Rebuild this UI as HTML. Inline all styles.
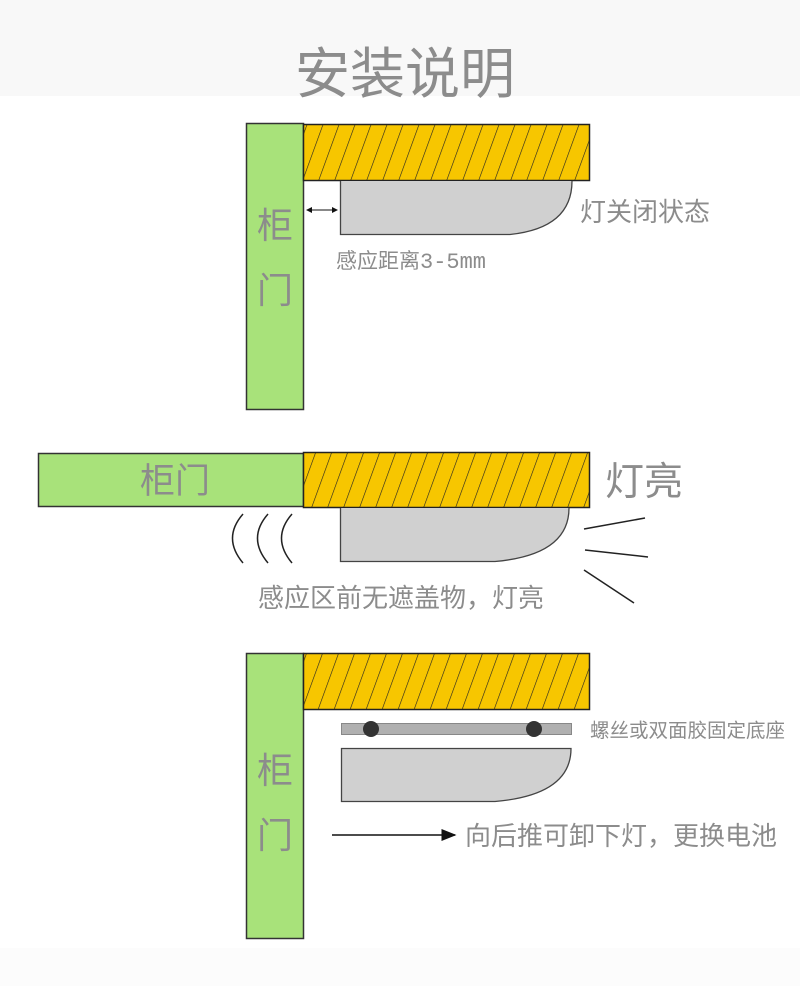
<!DOCTYPE html>
<html><head><meta charset="utf-8"><style>
html,body{margin:0;padding:0;background:#fff;}
svg{display:block;}
text{font-family:"Liberation Sans","Noto Sans CJK SC",sans-serif;fill:#8c8c8c;}
</style></head><body>
<svg width="800" height="986" viewBox="0 0 800 986" xmlns="http://www.w3.org/2000/svg">
<defs>
<pattern id="h" patternUnits="userSpaceOnUse" width="16" height="60" patternTransform="skewX(-20)">
<rect width="16" height="60" fill="#f7c600"/>
<line x1="0" y1="0" x2="0" y2="60" stroke="#222" stroke-width="1.3"/>
</pattern>
<marker id="ah" markerWidth="10" markerHeight="8" refX="9" refY="4" orient="auto"><path d="M0,0 L10,4 L0,8z" fill="#111"/></marker>
<marker id="as" markerWidth="6" markerHeight="6" refX="5" refY="3" orient="auto-start-reverse"><path d="M0,0 L6,3 L0,6z" fill="#111"/></marker>
</defs>
<rect x="0" y="0" width="800" height="96" fill="#f8f8f8"/>
<rect x="0" y="948" width="800" height="38" fill="#fcfcfc"/>
<text x="405" y="93" font-size="55" text-anchor="middle" fill="#999">安装说明</text>

<!-- section 1 -->
<rect x="246.5" y="123.5" width="57" height="286" fill="#a8e27a" stroke="#333" stroke-width="1.5"/>
<rect x="303.5" y="124.5" width="286" height="56" fill="url(#h)" stroke="#222" stroke-width="1.5"/>
<path d="M340.5,181 V234.5 H510 Q572,228 572,181" fill="#d0d0d0" stroke="#444" stroke-width="1.3"/>
<line x1="307" y1="210" x2="337" y2="210" stroke="#111" stroke-width="1" marker-start="url(#as)" marker-end="url(#as)"/>
<text x="275" y="238" font-size="36" text-anchor="middle">柜</text>
<text x="275" y="303" font-size="36" text-anchor="middle">门</text>
<text x="580" y="221" font-size="26">灯关闭状态</text>
<text x="336" y="268" font-size="21">感应距离<tspan font-family="Liberation Mono, monospace" font-size="22">3-5mm</tspan></text>

<!-- section 2 -->
<rect x="38.5" y="453.5" width="265" height="53" fill="#a8e27a" stroke="#333" stroke-width="1.5"/>
<rect x="303.5" y="452.5" width="286" height="55" fill="url(#h)" stroke="#222" stroke-width="1.5"/>
<path d="M340.5,508 V561.5 H495 Q569,555 569,508" fill="#d0d0d0" stroke="#444" stroke-width="1.3"/>
<text x="175" y="493" font-size="35" text-anchor="middle">柜门</text>
<text x="605" y="495" font-size="39">灯亮</text>
<path d="M243,514 Q222,538 243,563" fill="none" stroke="#222" stroke-width="1.5"/>
<path d="M268,514 Q247,538 268,563" fill="none" stroke="#222" stroke-width="1.5"/>
<path d="M292,514 Q271,538 292,563" fill="none" stroke="#222" stroke-width="1.5"/>
<line x1="584" y1="529" x2="645" y2="518" stroke="#222" stroke-width="1.5"/>
<line x1="585" y1="550" x2="648" y2="557" stroke="#222" stroke-width="1.5"/>
<line x1="584" y1="570" x2="634" y2="603" stroke="#222" stroke-width="1.5"/>
<text x="258" y="607" font-size="26">感应区前无遮盖物，灯亮</text>

<!-- section 3 -->
<rect x="246.5" y="653.5" width="57" height="285" fill="#a8e27a" stroke="#333" stroke-width="1.5"/>
<rect x="303.5" y="653.5" width="286" height="56" fill="url(#h)" stroke="#222" stroke-width="1.5"/>
<rect x="341.5" y="723.5" width="230" height="11" fill="#b0b0b0" stroke="#888" stroke-width="1"/>
<circle cx="371" cy="729" r="8" fill="#333"/>
<circle cx="534" cy="729" r="8" fill="#333"/>
<path d="M341.5,748.5 V801.5 H495 Q571,795 571,748.5 Z" fill="#d0d0d0" stroke="#444" stroke-width="1.3"/>
<line x1="332" y1="835" x2="455" y2="835" stroke="#111" stroke-width="1.5" marker-end="url(#ah)"/>
<text x="275" y="783" font-size="36" text-anchor="middle">柜</text>
<text x="275" y="848" font-size="36" text-anchor="middle">门</text>
<text x="590" y="737" font-size="19.5">螺丝或双面胶固定底座</text>
<text x="465" y="845" font-size="26">向后推可卸下灯，更换电池</text>
</svg>
</body></html>
